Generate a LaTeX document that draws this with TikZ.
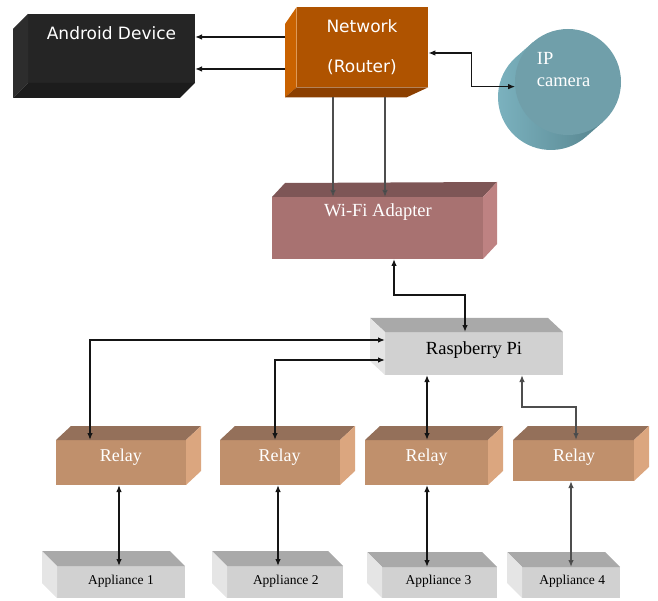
\documentclass[tikz,border=0pt]{standalone}
\usepackage{fontspec}
\setmainfont{Liberation Serif}
\newfontfamily\dvsans{DejaVu Sans}
\usetikzlibrary{arrows.meta}
\definecolor{andF}{HTML}{252525}
\definecolor{andL}{HTML}{2D2D2D}
\definecolor{andB}{HTML}{1C1C1C}
\definecolor{netF}{HTML}{AF5300}
\definecolor{netL}{HTML}{C96200}
\definecolor{netB}{HTML}{8B3F00}
\definecolor{camF}{HTML}{709FAA}
\definecolor{camL}{HTML}{7DB4C1}
\definecolor{camD}{HTML}{57858F}
\definecolor{wifF}{HTML}{A87271}
\definecolor{wifT}{HTML}{7E5656}
\definecolor{wifR}{HTML}{BE8282}
\definecolor{gryF}{HTML}{D1D1D1}
\definecolor{gryT}{HTML}{A9A9A9}
\definecolor{gryL}{HTML}{E5E5E5}
\definecolor{relF}{HTML}{C0906C}
\definecolor{relT}{HTML}{94705A}
\definecolor{relR}{HTML}{DBA67F}
\definecolor{lnblack}{HTML}{151515}
\definecolor{lngrey}{HTML}{4E4E4E}
\begin{document}
\begin{tikzpicture}[x=1pt,y=-1pt,
  boxface/.style={rectangle, inner sep=0pt, outer sep=0pt, draw=none},
  sanslbl/.style={font=\dvsans\fontsize{17}{20.4}\selectfont, text=white, inner sep=0pt, align=center},
  serlbl/.style={font=\fontsize{18.5}{22}\selectfont, inner sep=0pt},
  rellbl/.style={font=\fontsize{18}{21.6}\selectfont, text=white, inner sep=0pt},
  applbl/.style={font=\fontsize{13.5}{16}\selectfont, text=black, inner sep=0pt},
  tipstyle/.style={Latex[length=7pt,width=5.5pt,fill=lnblack]},
  lnsingle/.style={line width=1.3pt, draw=lnblack, -{Latex[length=7pt,width=5.5pt]}},
  lndouble/.style={line width=1.3pt, draw=lnblack, {Latex[length=7pt,width=5.5pt]}-{Latex[length=7pt,width=5.5pt]}},
  lngreysingle/.style={line width=1.3pt, draw=lngrey, -{Latex[length=7pt,width=5.5pt,fill=lnblack]}},
  lngreydouble/.style={line width=1.3pt, draw=lngrey, {Latex[length=7pt,width=5.5pt,fill=lnblack]}-{Latex[length=7pt,width=5.5pt,fill=lnblack]}},
]
\useasboundingbox (0,0) rectangle (658,601);

% ---------- Android device ----------
\node[boxface, fill=andF, minimum width=167pt, minimum height=69pt] (android) at (111.5,48.5) {};
\fill[andL] (android.north west) -- ++(-15,15) -- ([xshift=-15pt,yshift=-15pt]android.south west) -- (android.south west) -- cycle;
\fill[andB] (android.south west) -- ++(-15,15) -- ([xshift=-15pt,yshift=-15pt]android.south east) -- (android.south east) -- cycle;
\node[sanslbl] (androidT) at (111.5,32.8) {Android Device};

% ---------- Network (Router) ----------
\node[boxface, fill=netF, minimum width=131.6pt, minimum height=80.3pt] (network) at (362.5,47.15) {};
\fill[netL] (network.north west) -- ++(-11.7,17) -- ([xshift=-11.7pt,yshift=-10pt]network.south west) -- (network.south west) -- cycle;
\fill[netB] (network.south west) -- (network.south east) -- ++(-21.6,10) -- ([xshift=-11.7pt,yshift=-10pt]network.south west) -- cycle;
\node[sanslbl] (networkT) at (362,47.3) {Network\\[20.3pt](Router)};

% ---------- IP camera ----------
\shade[left color=camL, right color=camD]
  (515.93,57.25) arc[start angle=228.6, end angle=48.6, radius=53]
  -- (603.07,121.75) -- (532.93,42.25) -- cycle;
\node[circle, fill=camF, minimum size=106pt, inner sep=0pt, outer sep=0pt] (camera) at (568,82) {};
\node[serlbl, text=white, anchor=north west, align=left, font=\fontsize{18.5}{21.7}\selectfont] (cameraT) at (536.7,52.3) {IP\\camera};

% ---------- Wi-Fi adapter ----------
\node[boxface, fill=wifF, minimum width=211pt, minimum height=62pt] (wifi) at (377.5,228) {};
\fill[wifT] (wifi.north west) -- ++(13,-14) -- ([xshift=14pt,yshift=15pt]wifi.north east) -- (wifi.north east) -- cycle;
\fill[wifR] (wifi.north east) -- ++(14,-15) -- ([xshift=14pt,yshift=15pt]wifi.south east) -- (wifi.south east) -- cycle;
\node[serlbl, text=white] (wifiT) at (378,212.4) {Wi-Fi Adapter};

% ---------- Raspberry Pi ----------
\node[boxface, fill=gryF, minimum width=178pt, minimum height=43pt] (rpi) at (474,353.5) {};
\fill[gryT] (rpi.north west) -- ++(-15,-14) -- ([xshift=-15pt,yshift=14pt]rpi.north east) -- (rpi.north east) -- cycle;
\fill[gryL] (rpi.north west) -- ++(-15,-14) -- ([xshift=-15pt,yshift=14pt]rpi.south west) -- (rpi.south west) -- cycle;
\node[serlbl, text=black] (rpiT) at (474,349.7) {Raspberry Pi};

% ---------- Relays ----------
\node[boxface, fill=relF, minimum width=130pt, minimum height=45pt] (relay1) at (121,462.5) {};
\node[boxface, fill=relF, minimum width=120pt, minimum height=45pt] (relay2) at (280,462.5) {};
\node[boxface, fill=relF, minimum width=123pt, minimum height=45pt] (relay3) at (426.5,462.5) {};
\node[boxface, fill=relF, minimum width=121pt, minimum height=41pt] (relay4) at (573.5,460.5) {};
\foreach \r in {relay1,relay2,relay3,relay4}{
  \fill[relT] (\r.north west) -- ++(15,-14) -- ([xshift=15pt,yshift=14pt]\r.north east) -- (\r.north east) -- cycle;
  \fill[relR] (\r.north east) -- ++(15,-14) -- ([xshift=15pt,yshift=14pt]\r.south east) -- (\r.south east) -- cycle;
}
\node[rellbl] (relay1T) at (120.8,457.5) {Relay};
\node[rellbl] (relay2T) at (279.5,457.5) {Relay};
\node[rellbl] (relay3T) at (426.7,457.5) {Relay};
\node[rellbl] (relay4T) at (574.2,457.5) {Relay};

% ---------- Appliances ----------
\node[boxface, fill=gryF, minimum width=128pt, minimum height=32pt] (app1) at (121,582) {};
\node[boxface, fill=gryF, minimum width=116pt, minimum height=32pt] (app2) at (285,582) {};
\node[boxface, fill=gryF, minimum width=115pt, minimum height=31pt] (app3) at (439.5,582.5) {};
\node[boxface, fill=gryF, minimum width=98pt, minimum height=31pt] (app4) at (571,582.5) {};
\foreach \a in {app1,app2,app3,app4}{
  \fill[gryT] (\a.north west) -- ++(-15,-15) -- ([xshift=-15pt,yshift=15pt]\a.north east) -- (\a.north east) -- cycle;
  \fill[gryL] (\a.north west) -- ++(-15,-15) -- ([xshift=-15pt,yshift=15pt]\a.south west) -- (\a.south west) -- cycle;
}
\node[applbl] (app1T) at (121,580.9) {Appliance 1};
\node[applbl] (app2T) at (285.8,580.9) {Appliance 2};
\node[applbl] (app3T) at (438.5,581.2) {Appliance 3};
\node[applbl] (app4T) at (572.2,581.2) {Appliance 4};

% ---------- Connectors ----------
\coordinate (na1) at ([xshift=-11.7pt,yshift=10.15pt]network.west);
\coordinate (na2) at ([xshift=-11.7pt,yshift=-21.85pt]network.west);
\draw[lnsingle] (na1) -- (android.east |- na1);
\draw[lnsingle] (na2) -- (android.east |- na2);

\draw[lndouble] ([yshift=-5.85pt]network.east) -- ++(43,0) |- (camera.185);

\coordinate (nw1) at ([xshift=-29.5pt,yshift=-10pt]network.south);
\coordinate (nw2) at ([xshift=22.5pt,yshift=-10pt]network.south);
\draw[lngreysingle] (nw1) -- (nw1 |- wifi.north);
\draw[lngreysingle] (nw2) -- (nw2 |- wifi.north);

\draw[lndouble] ([xshift=16.5pt]wifi.south) -- ++(0,36) -| ([xshift=-9pt]rpi.north);

\draw[lndouble] ([yshift=13.5pt]rpi.west) -| ([xshift=-31pt]relay1.north);
\draw[lndouble] ([yshift=-6.5pt]rpi.west) -| ([xshift=-5pt]relay2.north);
\coordinate (r3) at ([xshift=-47pt]rpi.south);
\draw[lndouble] (r3) -- (r3 |- relay3.north);
\draw[lngreydouble] ([xshift=48pt]rpi.south) -- ++(0,32) -| ([xshift=2.5pt]relay4.north);

\coordinate (ra1) at ([xshift=-2pt]relay1.south);
\coordinate (ra2) at ([xshift=-2pt]relay2.south);
\coordinate (ra3) at ([xshift=0.5pt]relay3.south);
\coordinate (ra4) at ([xshift=-2.5pt]relay4.south);
\draw[lndouble] (ra1) -- (ra1 |- app1.north);
\draw[lndouble] (ra2) -- (ra2 |- app2.north);
\draw[lndouble] (ra3) -- (ra3 |- app3.north);
\draw[lngreydouble] (ra4) -- (ra4 |- app4.north);
\end{tikzpicture}
\end{document}
